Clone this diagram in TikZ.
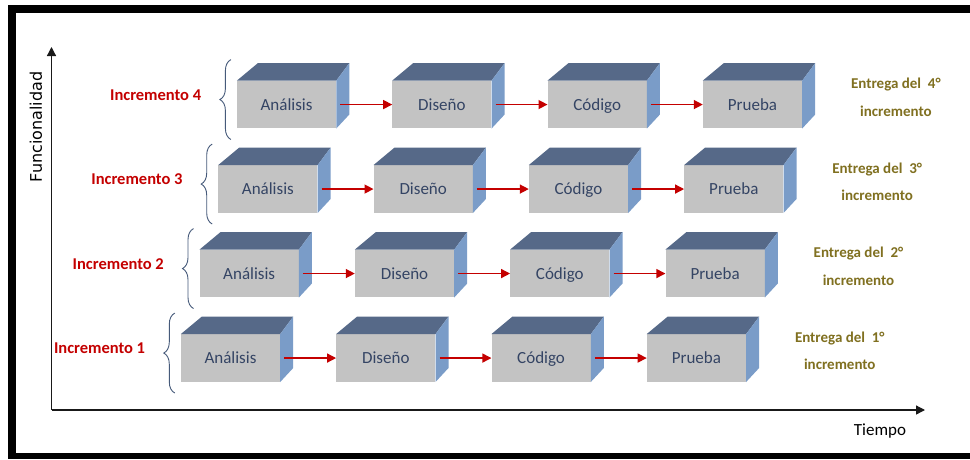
\documentclass[tikz,border=0pt]{standalone}
\usepackage{fontspec}
\setmainfont{Carlito}
\newfontfamily\axisfont{DejaVu Sans}
\usetikzlibrary{arrows.meta,decorations.pathreplacing}
\definecolor{incred}{RGB}{196,0,0}
\definecolor{olive}{RGB}{128,112,32}
\definecolor{boxtext}{RGB}{52,68,100}
\definecolor{topcol}{RGB}{86,105,136}
\definecolor{sidecol}{RGB}{122,156,200}
\definecolor{frontcol}{RGB}{195,195,195}
\definecolor{bracecol}{RGB}{70,90,122}
\definecolor{axiscol}{RGB}{25,25,25}
\newcommand\mkcube[4]{%
  \node[front] (#1) at (#2+49.5,#3+23.75) {#4};
  \fill[topcol] (#1.north west) -- ([shift={(21,-17.5)}]#1.north west) -- ([shift={(13,-17.5)}]#1.north east) -- (#1.north east) -- cycle;
  \fill[sidecol] (#1.north east) -- ([shift={(13,-17.5)}]#1.north east) -- ([shift={(13,-14)}]#1.south east) -- (#1.south east) -- cycle;
}
\begin{document}
\begin{tikzpicture}[x=1pt,y=-1pt,
  front/.style={rectangle, fill=frontcol, minimum width=99pt, minimum height=47.5pt, inner sep=0pt,
    text=boxtext, font=\fontsize{17}{20}\selectfont, text height=11pt, text depth=0pt},
  redarrow/.style={draw=incred, line width=1.4pt, -{Triangle[length=9pt,width=9pt]}},
  axis/.style={draw=axiscol, line width=1.3pt, -{Triangle[length=9pt,width=9pt]}},
  bracestyle/.style={draw=bracecol, line width=0.9pt, decorate, decoration={brace, amplitude=11pt}},
  inclabel/.style={text=incred, font=\bfseries\fontsize{16.5}{20}\selectfont, inner sep=0pt},
  entlabel/.style={text=olive, font=\bfseries\fontsize{15}{27.5}\selectfont, align=center, inner sep=0pt},
  axislabel/.style={text=black, font=\axisfont\fontsize{16}{20}\selectfont, inner sep=0pt},
  timelabel/.style={text=black, font=\fontsize{17}{20}\selectfont, inner sep=0pt}
]
\useasboundingbox (0,0) rectangle (970,459);
\fill[white] (0,0) rectangle (970,459);
\fill[black] (8,5) rectangle (970,13);
\fill[black] (8,5) rectangle (16,459);
\fill[black] (8,453) rectangle (970,459);

\coordinate (o) at (51.5,410);
\coordinate (ytip) at (51.5,47);
\coordinate (xtip) at (925,410);
\draw[axis] (o) -- (ytip);
\draw[axis] (o) -- (xtip);
\node[axislabel, rotate=90] (fy) at (36,127) {Funcionalidad};
\node[timelabel, anchor=base] (tx) at (880,435) {Tiempo};

\foreach \i in {1,...,4} {
  \pgfmathsetmacro\bx{181+(\i-1)*18.7}
  \pgfmathsetmacro\by{334.3-(\i-1)*84.5}
  \mkcube{a\i}{\bx}{\by}{Análisis}
  \mkcube{d\i}{\bx+155.3}{\by}{Diseño}
  \mkcube{c\i}{\bx+310.6}{\by}{Código}
  \mkcube{p\i}{\bx+465.9}{\by}{Prueba}
  \draw[redarrow] ([xshift=4pt]a\i.east) -- (d\i.west);
  \draw[redarrow] ([xshift=4pt]d\i.east) -- (c\i.west);
  \draw[redarrow] ([xshift=4pt]c\i.east) -- (p\i.west);
  \draw[bracestyle] ([shift={(-6,11)}]a\i.south west) -- ([shift={(-6,-21)}]a\i.north west);
  \node[inclabel, anchor=base west] (l\i) at ([shift={(-127,19.5)}]a\i.north west) {Incremento \i};
  \node[entlabel, anchor=base] (e\i) at ([shift={(659,35.5)}]a\i.north west) {Entrega del\ \ \i°\\incremento};
}
\end{tikzpicture}
\end{document}
